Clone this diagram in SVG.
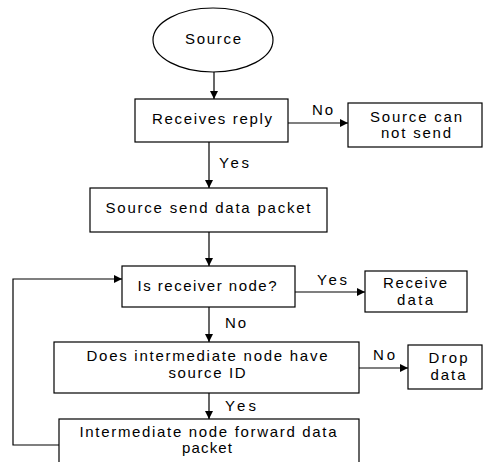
<svg xmlns="http://www.w3.org/2000/svg" width="483" height="462" viewBox="0 0 483 462">
<style>
.n{fill:#fff;stroke:#000;stroke-width:1.2}
.t{font-family:"Liberation Sans",Arial,sans-serif;font-size:15px;fill:#000;text-anchor:middle}
.l{font-family:"Liberation Sans",Arial,sans-serif;font-size:15px;fill:#000}
.c{fill:none;stroke:#000;stroke-width:1.2}
</style>
<defs>
<marker id="a" viewBox="0 0 10 10" refX="10" refY="5" markerWidth="8" markerHeight="8" markerUnits="userSpaceOnUse" orient="auto">
<path d="M0,0L10,5L0,10z" fill="#000"/>
</marker>
</defs>
<rect width="483" height="462" fill="#fff"/>
<g id="connectors">
<line class="c" x1="214" y1="72" x2="214" y2="99" marker-end="url(#a)"/>
<line class="c" x1="288" y1="123" x2="348" y2="123" marker-end="url(#a)"/>
<line class="c" x1="209" y1="142" x2="209" y2="188" marker-end="url(#a)"/>
<line class="c" x1="209" y1="232" x2="209" y2="266" marker-end="url(#a)"/>
<line class="c" x1="295" y1="292" x2="365" y2="292" marker-end="url(#a)"/>
<line class="c" x1="209" y1="307" x2="209" y2="342" marker-end="url(#a)"/>
<line class="c" x1="359" y1="368" x2="408" y2="368" marker-end="url(#a)"/>
<line class="c" x1="209" y1="393" x2="209" y2="419" marker-end="url(#a)"/>
<polyline class="c" points="59,445 13,445 13,279 122,279" marker-end="url(#a)"/>
<text class="l" x="312" y="115" textLength="21">No</text>
<text class="l" x="219" y="168" textLength="30">Yes</text>
<text class="l" x="317" y="285" textLength="30">Yes</text>
<text class="l" x="225" y="328" textLength="21">No</text>
<text class="l" x="373" y="360" textLength="22">No</text>
<text class="l" x="225" y="411" textLength="31">Yes</text>
</g>
<g id="source">
<ellipse class="n" cx="213" cy="40" rx="60" ry="32"/>
<text class="t" x="213" y="44" textLength="56">Source</text>
</g>
<g id="receives-reply">
<rect class="n" x="135" y="99" width="153" height="43"/>
<text class="t" x="212" y="124" textLength="120">Receives reply</text>
</g>
<g id="cannot-send">
<rect class="n" x="348" y="103" width="134" height="44"/>
<text class="t" x="416" y="122" textLength="92">Source can</text>
<text class="t" x="416" y="138" textLength="70">not send</text>
</g>
<g id="send-packet">
<rect class="n" x="90" y="188" width="237" height="44"/>
<text class="t" x="208" y="213" textLength="205">Source send data packet</text>
</g>
<g id="is-receiver">
<rect class="n" x="122" y="266" width="173" height="41"/>
<text class="t" x="207" y="291" textLength="139">Is receiver node?</text>
</g>
<g id="receive-data">
<rect class="n" x="365" y="271" width="102" height="41"/>
<text class="t" x="415" y="288" textLength="64">Receive</text>
<text class="t" x="415" y="305" textLength="36">data</text>
</g>
<g id="has-source-id">
<rect class="n" x="54" y="342" width="305" height="51"/>
<text class="t" x="207" y="361" textLength="241">Does intermediate node have</text>
<text class="t" x="207" y="378" textLength="77">source ID</text>
</g>
<g id="drop-data">
<rect class="n" x="408" y="345" width="74" height="44"/>
<text class="t" x="448" y="363" textLength="39">Drop</text>
<text class="t" x="448" y="380" textLength="35">data</text>
</g>
<g id="forward">
<rect class="n" x="59" y="419" width="300" height="60"/>
<text class="t" x="208" y="437" textLength="257">Intermediate node forward data</text>
<text class="t" x="207" y="453" textLength="50">packet</text>
</g>
</svg>
